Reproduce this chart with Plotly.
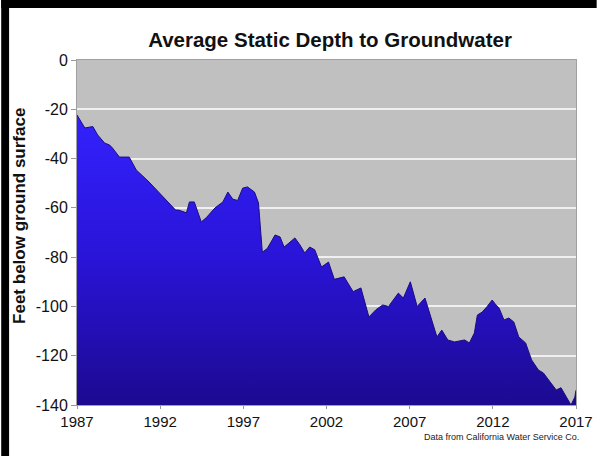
import plotly.graph_objects as go

# Decimal year and average static depth (feet below ground surface, negative)
years = [1987.00, 1987.47, 1987.95, 1988.24, 1988.66, 1988.96, 1989.13, 1989.55,
         1990.14, 1990.56, 1991.33, 1991.92, 1992.51, 1992.93, 1993.11, 1993.58,
         1993.76, 1994.05, 1994.47, 1994.77, 1995.30, 1995.77, 1996.07, 1996.37,
         1996.66, 1996.96, 1997.25, 1997.67, 1997.91, 1998.14, 1998.44, 1998.91,
         1999.21, 1999.45, 1999.74, 2000.10, 2000.40, 2000.69, 2000.99, 2001.29,
         2001.70, 2002.12, 2002.47, 2003.06, 2003.60, 2004.07, 2004.55, 2004.96,
         2005.38, 2005.73, 2006.32, 2006.62, 2007.04, 2007.45, 2007.92, 2008.34,
         2008.64, 2008.93, 2009.29, 2009.70, 2010.30, 2010.59, 2010.89, 2011.07,
         2011.36, 2011.66, 2011.96, 2012.19, 2012.37, 2012.67, 2012.96, 2013.26,
         2013.56, 2013.97, 2014.33, 2014.74, 2015.04, 2015.45, 2015.81, 2016.10,
         2016.40, 2016.70, 2016.93, 2017.00]
depth = [-22.3, -27.6, -27.0, -30.4, -33.7, -34.5, -35.7, -39.4,
         -39.4, -44.6, -49.5, -53.6, -58.0, -60.9, -60.9, -62.0,
         -57.6, -57.6, -65.7, -64.0, -60.0, -57.6, -53.6, -56.5,
         -57.0, -52.0, -51.5, -53.6, -58.0, -78.0, -76.5, -71.0,
         -71.8, -75.9, -74.3, -72.2, -75.0, -78.3, -75.9, -77.0,
         -84.0, -82.0, -89.0, -88.0, -94.0, -92.5, -104.3, -101.4,
         -99.4, -100.0, -94.6, -96.6, -90.0, -100.0, -96.6, -105.5,
         -112.4, -109.6, -113.6, -114.4, -113.6, -114.8, -110.8, -103.5,
         -102.3, -100.0, -97.4, -99.4, -100.6, -105.5, -104.7, -106.3,
         -112.4, -114.8, -121.7, -125.8, -127.0, -130.7, -133.9, -133.0,
         -136.8, -140.0, -136.8, -134.0]

x_ticks = [1987, 1992, 1997, 2002, 2007, 2012, 2017]
y_ticks = [0, -20, -40, -60, -80, -100, -120, -140]
y_tick_labels = ["0", "-20", "-40", "-60", "-80", "-100", "-120", "-140"]
y_floor = -140

title_text = "Average Static Depth to Groundwater"
y_title = "Feet below ground surface"
source_text = "Data from California Water Service Co."

FONT = "Liberation Sans, Arial, sans-serif"

fig = go.Figure()
fig.add_trace(go.Scatter(
    x=years, y=[y_floor] * len(years), mode="lines",
    line=dict(width=0, color="rgba(0,0,0,0)"), hoverinfo="skip", showlegend=False))
fig.add_trace(go.Scatter(
    x=years, y=depth, mode="lines", fill="tonexty",
    line=dict(width=1, color="#1a0c80"),
    fillgradient=dict(type="vertical", start=-140, stop=-20,
                      colorscale=[[0, "#1c0a90"], [0.5, "#2a14d8"], [1, "#3322ff"]]),
    showlegend=False))

W, H = 605, 456
L, R, T, B = 77, 21, 60, 51
PW, PH = W - L - R, H - T - B


def px_x(px):
    return (px - L) / PW


def px_y(py):
    return 1 - (py - T) / PH


fig.update_layout(
    width=W, height=H,
    margin=dict(l=L, r=R, t=T, b=B),
    paper_bgcolor="white",
    plot_bgcolor="#c0c0c0",
    font=dict(family=FONT, color="#111111"),
    title=dict(text="<b>" + title_text + "</b>", x=330 / W, xanchor="center",
               y=1 - 40 / H, yanchor="middle",
               font=dict(size=20.5, family=FONT, color="#111111")),
    xaxis=dict(range=[1987, 2017], tickvals=x_ticks, showgrid=False,
               ticks="outside", ticklen=3, tickcolor="#999999",
               tickfont=dict(size=15), zeroline=False,
               showline=True, linecolor="#a0a0a0", mirror=True),
    yaxis=dict(range=[-140, 0], tickvals=y_ticks, ticktext=y_tick_labels,
               showgrid=True, gridcolor="#f0f0f0", gridwidth=2,
               ticks="outside", ticklen=5, tickcolor="#999999",
               tickfont=dict(size=16), zeroline=False,
               showline=True, linecolor="#a0a0a0", mirror=True),
    annotations=[
        dict(text=source_text, xref="paper", yref="paper",
             x=px_x(589), y=px_y(437),
             xanchor="right", yanchor="middle", showarrow=False,
             font=dict(size=9, color="#222222")),
        dict(text="<b>" + y_title + "</b>", xref="paper", yref="paper",
             x=px_x(18), y=px_y(216), textangle=-90,
             xanchor="center", yanchor="middle", showarrow=False,
             font=dict(size=17, color="#111111")),
    ],
    shapes=[
        dict(type="rect", xref="paper", yref="paper",
             x0=px_x(0), x1=px_x(8), y0=px_y(H), y1=px_y(0),
             fillcolor="black", line=dict(width=0), layer="above"),
        dict(type="rect", xref="paper", yref="paper",
             x0=px_x(0), x1=px_x(W), y0=px_y(8), y1=px_y(0),
             fillcolor="black", line=dict(width=0), layer="above"),
    ],
)

fig.write_html("out.html", config={"displayModeBar": False},
               post_script="document.body.style.margin='0';document.body.style.overflow='hidden';")
